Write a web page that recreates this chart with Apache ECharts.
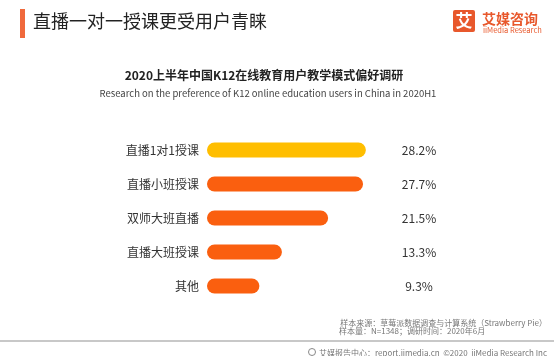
<!DOCTYPE html>
<html>
<head>
<meta charset="utf-8">
<script src="https://cdn.jsdelivr.net/npm/echarts@6/dist/echarts.min.js"></script>
<style>
html,body{margin:0;padding:0;background:#fff;}
#chart{width:554px;height:356px;}
</style>
</head>
<body>
<div id="chart"></div>
<script>
const categories = ['直播1对1授课', '直播小班授课', '双师大班直播', '直播大班授课', '其他'];
const values = [28.2, 27.7, 21.5, 13.3, 9.3];
const barColors = ['#FFBE00', '#FA5F0F', '#FA5F0F', '#FA5F0F', '#FA5F0F'];

const FONT = '"Noto Sans CJK SC", "Noto Sans", sans-serif';
const chart = echarts.init(document.getElementById('chart'));
chart.setOption({
  backgroundColor: '#fff',
  animation: false,
  textStyle: { fontFamily: FONT },
  grid: { left: 207, top: 133, width: 169, height: 170 },
  xAxis: { type: 'value', min: 0, max: 30, show: false },
  yAxis: [{
    type: 'category', data: categories, inverse: true,
    axisLine: { show: false }, axisTick: { show: false },
    axisLabel: { margin: 8, fontSize: 12, color: '#333', fontFamily: FONT }
  }, {
    type: 'category', data: values.map(v => v.toFixed(1) + '%'), inverse: true, position: 'right',
    axisLine: { show: false }, axisTick: { show: false },
    axisLabel: { margin: 43, align: 'center', fontSize: 12, color: '#333', fontFamily: FONT }
  }],
  series: [{
    type: 'bar', yAxisIndex: 0, barWidth: 15,
    data: values.map((v, i) => ({ value: v, itemStyle: { color: barColors[i] } })),
    itemStyle: { borderRadius: 7.5 }
  }],
  graphic: [
    { type: 'rect', shape: { x: 20, y: 9, width: 5, height: 29 }, style: { fill: '#F0693C' } },
    { type: 'text', left: 33, top: 12, style: { text: '直播一对一授课更受用户青睐', fontSize: 18, fill: '#222', fontFamily: FONT } },
    { type: 'rect', shape: { x: 453, y: 10, width: 22, height: 22, r: 2 }, style: { fill: '#E8582C' } },
    { type: 'text', x: 464, y: 21, style: { text: '艾', fontSize: 17, fontWeight: 'bold', fill: '#fff', align: 'center', verticalAlign: 'middle', fontFamily: FONT } },
    { type: 'text', x: 482, y: 19, style: { text: '艾媒咨询', fontSize: 14, fontWeight: 'bold', fill: '#E8582C', verticalAlign: 'middle', fontFamily: FONT } },
    { type: 'text', x: 483, y: 30, style: { text: 'iiMedia Research', fontSize: 7.5, fill: '#E8582C', verticalAlign: 'middle', fontFamily: FONT } },
    { type: 'text', x: 264, y: 75, style: { text: '2020上半年中国K12在线教育用户教学模式偏好调研', fontSize: 12, fontWeight: 'bold', fill: '#222', align: 'center', verticalAlign: 'middle', fontFamily: FONT } },
    { type: 'text', x: 268, y: 93, style: { text: 'Research on the preference of K12 online education users in China in 2020H1', fontSize: 9.5, fill: '#444', align: 'center', verticalAlign: 'middle', fontFamily: FONT } },
    { type: 'text', x: 547, y: 323, style: { text: '样本来源：草莓派数据调查与计算系统（Strawberry Pie）', fontSize: 8, fill: '#777', align: 'right', verticalAlign: 'middle', fontFamily: FONT } },
    { type: 'text', x: 339, y: 331, style: { text: '样本量：N=1348；调研时间：2020年6月', fontSize: 8, fill: '#777', align: 'left', verticalAlign: 'middle', fontFamily: FONT } },
    { type: 'rect', shape: { x: 0, y: 340, width: 554, height: 2 }, style: { fill: '#C8C8C8' } },
    { type: 'circle', shape: { cx: 312, cy: 352, r: 3.5 }, style: { fill: 'none', stroke: '#888', lineWidth: 1 } },
    { type: 'text', x: 547, y: 352.5, style: { text: '艾媒报告中心：report.iimedia.cn  ©2020  iiMedia Research Inc', fontSize: 8, fill: '#777', align: 'right', verticalAlign: 'middle', fontFamily: FONT } }
  ]
});
</script>
</body>
</html>
